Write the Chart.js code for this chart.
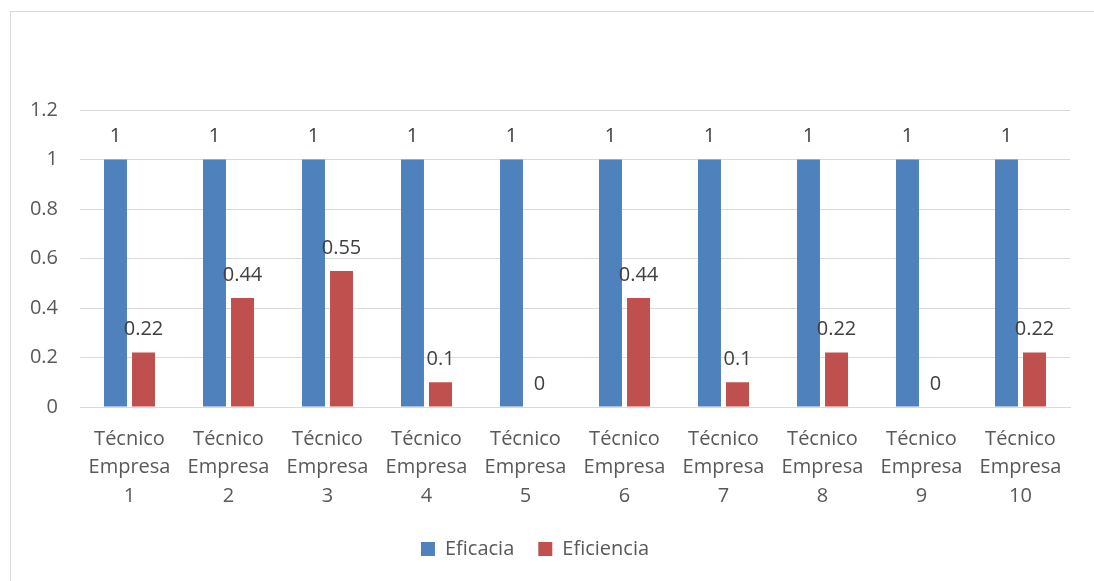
<!DOCTYPE html>
<html>
<head>
<meta charset="utf-8">
<script src="https://cdn.jsdelivr.net/npm/chart.js@4"></script>
<style>
  html, body { margin: 0; padding: 0; background: #fff; }
  #wrap { width: 1094px; height: 581px; position: relative; }
</style>
</head>
<body>
<div id="wrap"><canvas id="grafico"></canvas></div>
<script>
// Datos del gráfico
const categorias = [
  ['Técnico', 'Empresa', '1'], ['Técnico', 'Empresa', '2'], ['Técnico', 'Empresa', '3'],
  ['Técnico', 'Empresa', '4'], ['Técnico', 'Empresa', '5'], ['Técnico', 'Empresa', '6'],
  ['Técnico', 'Empresa', '7'], ['Técnico', 'Empresa', '8'], ['Técnico', 'Empresa', '9'],
  ['Técnico', 'Empresa', '10']
];
const eficacia = [1, 1, 1, 1, 1, 1, 1, 1, 1, 1];
const eficiencia = [0.22, 0.44, 0.55, 0.1, 0, 0.44, 0.1, 0.22, 0, 0.22];

const fuente = '"Open Sans", "Liberation Sans", sans-serif';

// Marco gris alrededor del gráfico
const marco = {
  id: 'marco',
  beforeDraw(chart) {
    const c = chart.ctx;
    c.save();
    c.fillStyle = '#fff';
    c.fillRect(0, 0, chart.width, chart.height);
    c.strokeStyle = '#d9d9d9';
    c.lineWidth = 1;
    c.strokeRect(10.5, 11.5, 2000, 2000);
    c.restore();
  }
};

// Etiquetas de valor encima de cada barra
const etiquetas = {
  id: 'etiquetas',
  afterDatasetsDraw(chart) {
    const c = chart.ctx;
    c.save();
    c.font = '20px ' + fuente;
    c.fillStyle = '#404040';
    c.textAlign = 'center';
    c.textBaseline = 'middle';
    chart.data.datasets.forEach(function(ds, i) {
      chart.getDatasetMeta(i).data.forEach(function(bar, j) {
        c.fillText(String(ds.data[j]), bar.x, bar.y - 23);
      });
    });
    c.restore();
  }
};

const ctx = document.getElementById('grafico').getContext('2d');
new Chart(ctx, {
  type: 'bar',
  data: {
    labels: categorias,
    datasets: [
      { label: 'Eficacia', data: eficacia, backgroundColor: '#4f81bd',
        categoryPercentage: 0.566, barPercentage: 0.82 },
      { label: 'Eficiencia', data: eficiencia, backgroundColor: '#c0504d',
        categoryPercentage: 0.566, barPercentage: 0.82 }
    ]
  },
  options: {
    responsive: true,
    maintainAspectRatio: false,
    animation: false,
    layout: { padding: { top: 110, right: 24, left: 0, bottom: 12 } },
    scales: {
      x: {
        grid: { display: false },
        border: { color: '#d9d9d9' },
        ticks: { color: '#595959', font: { family: fuente, size: 20, lineHeight: 1.42 }, padding: 10, maxRotation: 0 },
        afterFit: function(s) { s.height = 108; }
      },
      y: {
        min: 0,
        max: 1.2,
        grid: { color: '#d9d9d9', drawTicks: false },
        border: { display: false },
        ticks: {
          stepSize: 0.2,
          color: '#595959',
          font: { family: fuente, size: 20 },
          padding: 22,
          callback: function(v) { return String(Number(v.toFixed(1))); }
        },
        afterFit: function(s) { s.width = 80; }
      }
    },
    plugins: {
      legend: {
        position: 'bottom',
        labels: { color: '#595959', font: { family: fuente, size: 20 }, boxWidth: 14, boxHeight: 14, padding: 24 }
      },
      tooltip: { enabled: false }
    }
  },
  plugins: [marco, etiquetas]
});
</script>
</body>
</html>
